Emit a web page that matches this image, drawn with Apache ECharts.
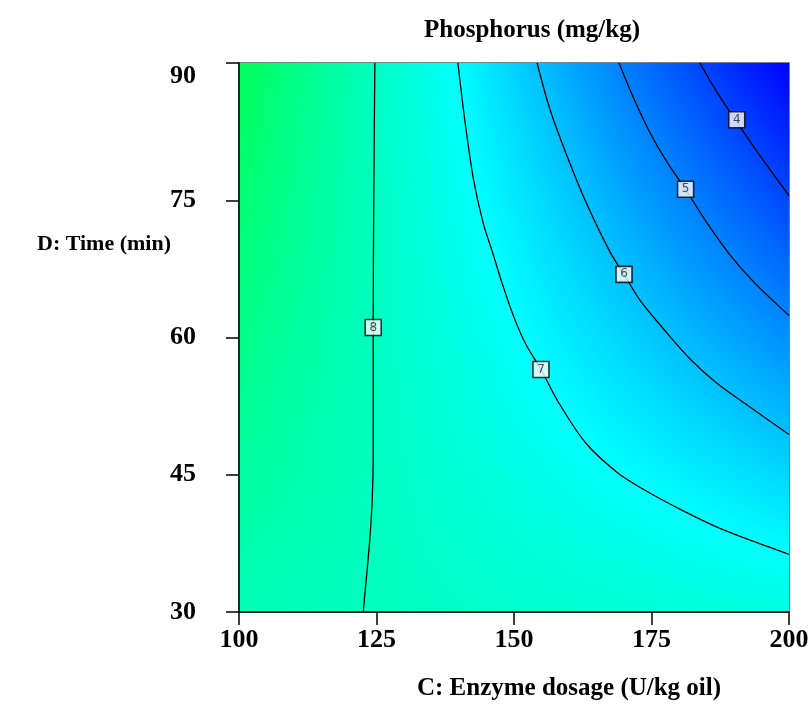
<!DOCTYPE html>
<html>
<head>
<meta charset="utf-8">
<script src="https://cdn.jsdelivr.net/npm/echarts@6/dist/echarts.min.js"></script>
<style>
html,body{margin:0;padding:0;background:#fff;}
#chart{width:812px;height:711px;}
</style>
</head>
<body>
<div id="chart"></div>
<script>
// ---- Data ----
// Grid nodes of the shaded response surface
const enzymeDosage = [100,105,110,115,120,125,130,135,140,145,150,155,160,165,170,175,180,185,190,195,200];
const timeMin = [30,35,40,45,50,55,60,65,70,75,80,85,90];
// Estimated phosphorus (mg/kg) at each node: one row per time, across enzyme dosage
const phosphorus30 = [8.16,8.13,8.10,8.06,8.03,8.00,7.96,7.93,7.90,7.86,7.83,7.80,7.76,7.73,7.70,7.66,7.63,7.60,7.56,7.53,7.49];
const phosphorus35 = [8.29,8.23,8.17,8.11,8.05,8.00,7.94,7.88,7.82,7.76,7.70,7.64,7.58,7.52,7.47,7.41,7.35,7.29,7.23,7.17,7.11];
const phosphorus40 = [8.41,8.33,8.25,8.16,8.08,7.99,7.91,7.82,7.74,7.66,7.57,7.49,7.40,7.32,7.24,7.15,7.07,6.98,6.90,6.81,6.73];
const phosphorus45 = [8.54,8.43,8.32,8.21,8.10,7.99,7.88,7.77,7.66,7.55,7.44,7.33,7.22,7.11,7.00,6.90,6.79,6.68,6.57,6.46,6.35];
const phosphorus50 = [8.66,8.53,8.39,8.26,8.12,7.99,7.85,7.72,7.58,7.45,7.31,7.18,7.04,6.91,6.77,6.64,6.50,6.37,6.23,6.10,5.96];
const phosphorus55 = [8.79,8.63,8.47,8.31,8.15,7.99,7.83,7.67,7.51,7.35,7.19,7.02,6.86,6.70,6.54,6.38,6.22,6.06,5.90,5.74,5.58];
const phosphorus60 = [8.91,8.73,8.54,8.36,8.17,7.99,7.80,7.61,7.43,7.24,7.06,6.87,6.68,6.50,6.31,6.13,5.94,5.76,5.57,5.38,5.20];
const phosphorus65 = [9.04,8.83,8.62,8.41,8.19,7.98,7.77,7.56,7.35,7.14,6.93,6.72,6.51,6.29,6.08,5.87,5.66,5.45,5.24,5.03,4.82];
const phosphorus70 = [9.16,8.93,8.69,8.45,8.22,7.98,7.74,7.51,7.27,7.04,6.80,6.56,6.33,6.09,5.85,5.62,5.38,5.14,4.91,4.67,4.43];
const phosphorus75 = [9.29,9.03,8.76,8.50,8.24,7.98,7.72,7.46,7.19,6.93,6.67,6.41,6.15,5.88,5.62,5.36,5.10,4.84,4.57,4.31,4.05];
const phosphorus80 = [9.41,9.13,8.84,8.55,8.26,7.98,7.69,7.40,7.12,6.83,6.54,6.25,5.97,5.68,5.39,5.10,4.82,4.53,4.24,3.96,3.67];
const phosphorus85 = [9.54,9.23,8.91,8.60,8.29,7.98,7.66,7.35,7.04,6.72,6.41,6.10,5.79,5.47,5.16,4.85,4.54,4.22,3.91,3.60,3.29];
const phosphorus90 = [9.66,9.32,8.99,8.65,8.31,7.97,7.63,7.30,6.96,6.62,6.28,5.94,5.61,5.27,4.93,4.59,4.25,3.92,3.58,3.24,2.90];
// Contour lines [enzyme dosage, time]
const contour8 = [[124.7,90],[124.5,75],[124.4,61.1],[124.4,47],[124.2,42],[123.8,38.1],[123.3,34.6],[122.9,32.1],[122.6,30]];
const contour7 = [[139.8,90],[141.0,84],[142.6,77.4],[144.4,72.5],[146.1,69.3],[147.8,66.0],[150.0,62.2],[152.2,59.2],[154.9,56.5],[158.0,53.0],[163.0,48.5],[168.9,45.2],[174.7,43.0],[180.6,41.1],[186.8,39.3],[192.7,37.9],[200,36.3]];
const contour6 = [[154.2,90],[156.5,85.0],[159.6,79.9],[163.3,74.5],[167.5,69.3],[170.0,66.9],[173.0,64.0],[177.8,60.5],[182.1,57.6],[186.9,55.0],[192.9,52.4],[200,49.4]];
const contour5 = [[169.1,90],[171.5,86.5],[174.7,82.4],[178.0,79.0],[181.2,76.2],[185.0,72.6],[189.3,69.0],[193.7,66.0],[200,62.4]];
const contour4 = [[183.8,90],[186.5,87.2],[189.3,84.6],[192.5,81.8],[196.0,78.8],[200,75.5]];
const contourLabels = [[124.4,61.1,'8'],[154.9,56.5,'7'],[170.0,66.9,'6'],[181.2,76.2,'5'],[190.5,83.8,'4']];
const xTicks = [100,125,150,175,200];
const yTicks = [30,45,60,75,90];

// ---- Build ----
const rows = [phosphorus30,phosphorus35,phosphorus40,phosphorus45,phosphorus50,phosphorus55,phosphorus60,
              phosphorus65,phosphorus70,phosphorus75,phosphorus80,phosphorus85,phosphorus90];
const cells = [];
for (let j = 0; j < timeMin.length - 1; j++) {
  for (let i = 0; i < enzymeDosage.length - 1; i++) {
    cells.push([enzymeDosage[i], timeMin[j], enzymeDosage[i+1], timeMin[j+1],
                rows[j][i], rows[j][i+1], rows[j+1][i], rows[j+1][i+1]]);
  }
}
const VMIN = 2.9, VMAX = 11.1;
function ramp(v) {
  let t = (v - VMIN) / (VMAX - VMIN);
  t = Math.max(0, Math.min(1, t));
  let g, b;
  if (t <= 0.5) { g = Math.round(510 * t); b = 255; }
  else { g = 255; b = Math.round(255 * (2 - 2 * t)); }
  return 'rgb(0,' + g + ',' + b + ')';
}
function renderCell(params, api) {
  const c0 = api.value(0), d0 = api.value(1), c1 = api.value(2), d1 = api.value(3);
  const v00 = api.value(4), v10 = api.value(5), v01 = api.value(6), v11 = api.value(7);
  const pBL = api.coord([c0, d0]), pTR = api.coord([c1, d1]);
  const x = pBL[0], y = pTR[1], w = pTR[0] - pBL[0], h = pBL[1] - pTR[1];
  const gx = ((v10 - v00) + (v11 - v01)) / 2 / w;
  const gy = ((v00 - v01) + (v10 - v11)) / 2 / h;
  const cx = x + w / 2, cy = y + h / 2, vc = (v00 + v10 + v01 + v11) / 4;
  const dev = Math.abs(gx) * w / 2 + Math.abs(gy) * h / 2;
  const g2 = gx * gx + gy * gy;
  let fill;
  if (g2 < 1e-12 || dev < 1e-9) {
    fill = ramp(vc);
  } else {
    const s = dev / g2;
    const stops = [];
    for (let k = 0; k <= 4; k++) {
      const t = k / 4;
      stops.push({offset: t, color: ramp(vc - dev + 2 * dev * t)});
    }
    fill = {type: 'linear', x: cx - gx * s, y: cy - gy * s, x2: cx + gx * s, y2: cy + gy * s,
            colorStops: stops, global: true};
  }
  return {type: 'rect', shape: {x: x - 0.5, y: y - 0.5, width: w + 1, height: h + 1},
          style: {fill: fill, stroke: null}};
}

const serif = '"Liberation Serif","Times New Roman",serif';
const lineSeries = (data) => ({
  type: 'line', data: data, smooth: 0.3,
  showSymbol: false, symbol: 'none', silent: true,
  lineStyle: {color: '#000', width: 1.3}, z: 5
});

const chart = echarts.init(document.getElementById('chart'), null, {renderer: 'canvas'});
chart.setOption({
  animation: false,
  backgroundColor: '#fff',
  title: {
    text: 'Phosphorus (mg/kg)', left: 527, top: 13, textAlign: 'center',
    textStyle: {fontFamily: serif, fontWeight: 'bold', fontSize: 25, color: '#000'}
  },
  graphic: [{
    type: 'text', left: 37, top: 233,
    style: {text: 'D: Time (min)', font: 'bold 22px ' + serif, fill: '#000'}
  }],
  grid: {left: 239, top: 63, width: 550, height: 549, containLabel: false,
         show: true, borderColor: '#555', borderWidth: 1.5, backgroundColor: 'transparent'},
  xAxis: {type: 'value', min: 100, max: 200, interval: 25,
     name: 'C: Enzyme dosage (U/kg oil)', nameLocation: 'middle', nameGap: 64,
     nameTextStyle: {fontFamily: serif, fontWeight: 'bold', fontSize: 25, color: '#000', padding: [0, 0, 0, 110]},
     axisLine: {show: true, lineStyle: {color: '#000', width: 1.5}},
     axisTick: {show: true, inside: false, length: 13, lineStyle: {color: '#000', width: 1.5}},
     axisLabel: {margin: 15, fontFamily: serif, fontWeight: 'bold', fontSize: 26, color: '#000',
                 formatter: v => xTicks.indexOf(v) >= 0 ? String(v) : ''},
     splitLine: {show: false}, z: 6},
  yAxis: {type: 'value', min: 30, max: 90, interval: 15,
     axisLine: {show: true, lineStyle: {color: '#000', width: 1.5}},
     axisTick: {show: true, inside: false, length: 13, lineStyle: {color: '#000', width: 1.5}},
     axisLabel: {margin: 43, fontFamily: serif, fontWeight: 'bold', fontSize: 26, color: '#000',
                 verticalAlignMaxLabel: 'top',
                 formatter: v => yTicks.indexOf(v) >= 0 ? String(v) : ''},
     splitLine: {show: false}, z: 6},
  series: [
    {type: 'custom', data: cells, renderItem: renderCell, silent: true, clip: true,
     encode: {x: [0, 2], y: [1, 3]}, z: 1},
    lineSeries(contour8), lineSeries(contour7), lineSeries(contour6), lineSeries(contour5), lineSeries(contour4),
    {type: 'scatter', silent: true, z: 7,
     data: contourLabels.map(d => ({value: [d[0], d[1]], label: {formatter: d[2]}})),
     symbol: 'rect', symbolSize: 16,
     itemStyle: {color: '#fff', borderColor: '#000', borderWidth: 1.6},
     label: {show: true, position: 'inside', fontSize: 12, fontFamily: '"DejaVu Sans",sans-serif', color: '#223'}}
  ]
});
</script>
</body>
</html>
